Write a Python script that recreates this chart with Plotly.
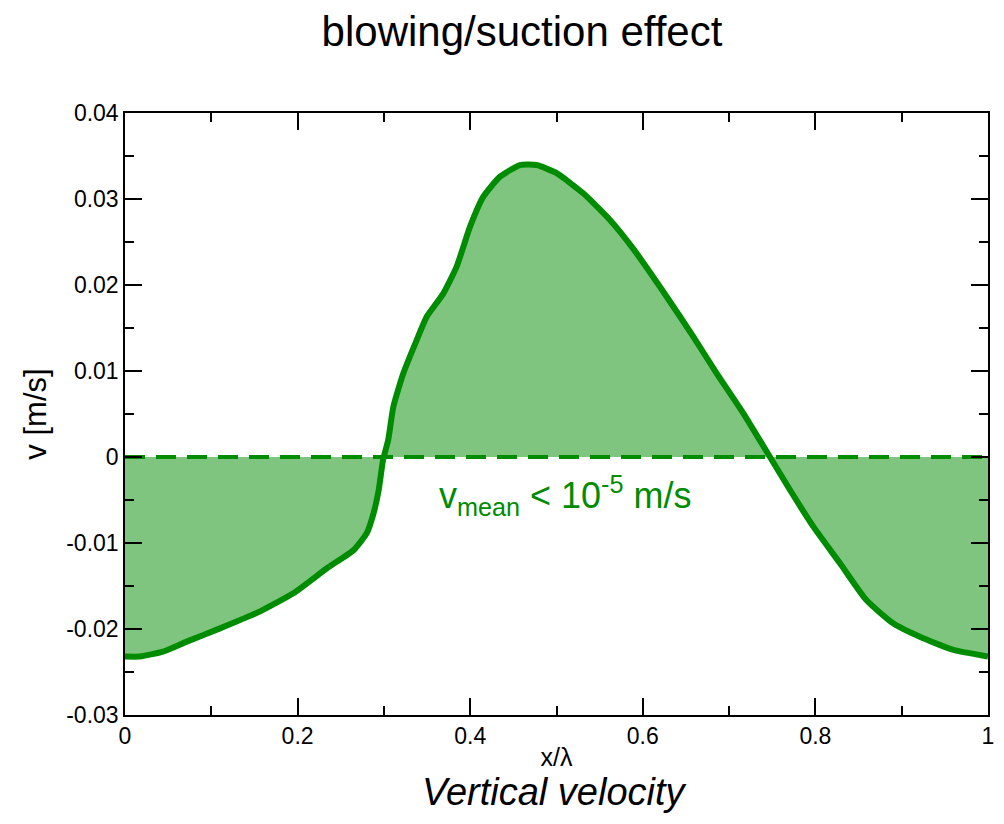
import plotly.graph_objects as go

# x / lambda positions and vertical velocity v [m/s]
x_pos = [0.0, 0.017, 0.044, 0.0715, 0.110, 0.156, 0.195, 0.234, 0.265, 0.280, 0.288,
         0.294, 0.299, 0.305, 0.311, 0.3225, 0.338, 0.3496, 0.3688, 0.3843, 0.3998,
         0.4152, 0.4345, 0.4577, 0.477, 0.5002, 0.531, 0.562, 0.589, 0.6277, 0.6585,
         0.6856, 0.7165, 0.7474, 0.7706, 0.7976, 0.8285, 0.859, 0.890, 0.921, 0.960, 1.0]
v_vel = [-0.0232, -0.0232, -0.02264, -0.02147, -0.01993, -0.01798, -0.01585, -0.01294,
         -0.01081, -0.00888, -0.00655, -0.00384, -0.00035, 0.0020, 0.00585, 0.00973,
         0.0136, 0.01631, 0.0190, 0.02213, 0.02678, 0.03027, 0.0326, 0.03395, 0.03395,
         0.0330, 0.03066, 0.02756, 0.02420, 0.01864, 0.01399, 0.00973, 0.00508, 0.0,
         -0.00384, -0.0081, -0.01236, -0.01663, -0.01934, -0.0209, -0.02244, -0.0232]

zero_x = [0.0, 1.0]
zero_y = [0.0, 0.0]

x_tickvals = [0, 0.2, 0.4, 0.6, 0.8, 1]
x_ticktext = ["0", "0.2", "0.4", "0.6", "0.8", "1"]
y_tickvals = [-0.03, -0.02, -0.01, 0, 0.01, 0.02, 0.03, 0.04]
y_ticktext = ["-0.03", "-0.02", "-0.01", "0", "0.01", "0.02", "0.03", "0.04"]

GREEN = "rgb(0,140,0)"
FONT = "Liberation Sans, Arial, Helvetica, sans-serif"

fig = go.Figure()
fig.add_trace(go.Scatter(
    x=x_pos, y=v_vel, mode="lines",
    line=dict(color=GREEN, width=6, shape="spline", smoothing=0.5),
    fill="tozeroy", fillcolor="rgba(0,140,0,0.5)",
    hoverinfo="skip", showlegend=False,
))
fig.add_trace(go.Scatter(
    x=zero_x, y=zero_y, mode="lines",
    line=dict(color=GREEN, width=4, dash="20px,11px"),
    hoverinfo="skip", showlegend=False,
))

axis_common = dict(
    showgrid=False, zeroline=False, showline=True, linecolor="black", linewidth=1.5,
    mirror="allticks", ticks="inside", ticklen=17, tickwidth=1.5, tickcolor="black",
    tickfont=dict(family=FONT, size=23, color="black"), automargin=False,
)

# page body adds ~8px offset; figure size/margins compensate so plot area sits at 125..988 x 113..715
fig.update_layout(
    width=988, height=808,
    margin=dict(l=117, r=8, t=105, b=101),
    paper_bgcolor="white", plot_bgcolor="white",
    title=dict(text="blowing/suction effect", x=(522 - 8) / 988, xanchor="center",
               y=1 - 23 / 808, yanchor="middle",
               font=dict(family=FONT, size=42, color="black")),
    xaxis=dict(range=[0, 1], tickvals=x_tickvals, ticktext=x_ticktext,
               minor=dict(dtick=0.1, ticks="inside", ticklen=9, tickwidth=1.5, tickcolor="black"),
               title=dict(text="x/λ", standoff=0, font=dict(family=FONT, size=25, color="black")),
               **axis_common),
    yaxis=dict(range=[-0.03, 0.04], tickvals=y_tickvals, ticktext=y_ticktext,
               minor=dict(dtick=0.005, ticks="inside", ticklen=9, tickwidth=1.5, tickcolor="black"),
               title=dict(text="v [m/s]", standoff=10, font=dict(family=FONT, size=31, color="black")),
               **axis_common),
    annotations=[
        dict(text="v<sub>mean</sub> &lt; 10<sup>-5</sup> m/s", x=0.51, y=-0.0045,
             xref="x", yref="y", showarrow=False, xanchor="center", yanchor="middle",
             font=dict(family=FONT, size=36, color=GREEN)),
        dict(text="<i>Vertical velocity</i>", x=0.498, y=-(792 - 715) / 602,
             xref="paper", yref="paper", showarrow=False, xanchor="center", yanchor="middle",
             font=dict(family=FONT, size=38, color="black")),
    ],
)

fig.write_html("out.html")
